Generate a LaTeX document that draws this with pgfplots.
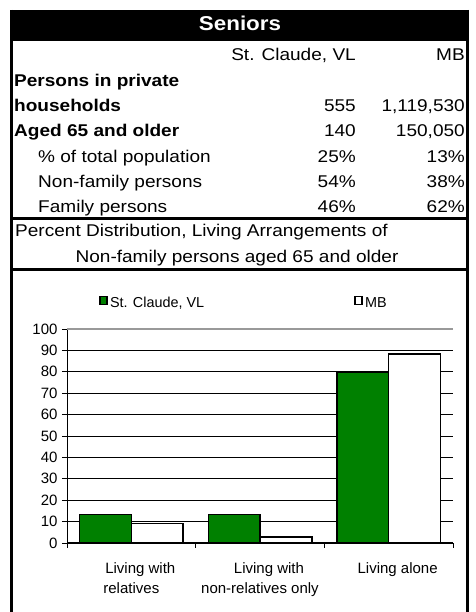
\documentclass[border=0pt]{standalone}
\usepackage{pgfplots}
\pgfplotsset{compat=1.18}
\usepackage{fontspec}
\setmainfont{Liberation Sans}
\newfontfamily\tabfont[FakeStretch=1.12]{Liberation Sans}
\definecolor{xlgreen}{RGB}{0,128,0}

\begin{document}
\begin{tikzpicture}[x=1pt,y=1pt]
\useasboundingbox (0,0) rectangle (475,612);
% frame
\fill[black] (10,602) rectangle (469,571.3);
\draw[line width=3pt] (11.5,602) -- (11.5,0);
\draw[line width=3pt] (467.5,602) -- (467.5,0);
\draw[line width=3pt] (10,393.3) -- (469,393.3);
\draw[line width=3pt] (10,342) -- (469,342);
% table text
\node[anchor=base, text=white, inner sep=0pt, font=\tabfont\bfseries\fontsize{20}{24}\selectfont] at (240,581) {Seniors};
\begin{scope}[every node/.style={inner sep=0pt, font=\tabfont\fontsize{17}{20}\selectfont}]
\node[anchor=base east] at (356,551) {St. Claude, VL};
\node[anchor=base east] at (465,551) {MB};
\node[anchor=base west, font=\tabfont\bfseries\fontsize{17}{20}\selectfont] at (14,525.7) {Persons in private};
\node[anchor=base west, font=\tabfont\bfseries\fontsize{17}{20}\selectfont] at (14,500.4) {households};
\node[anchor=base east] at (356,500.4) {555};
\node[anchor=base east] at (465,500.4) {1,119,530};
\node[anchor=base west, font=\tabfont\bfseries\fontsize{17}{20}\selectfont] at (14,475) {Aged 65 and older};
\node[anchor=base east] at (356,475) {140};
\node[anchor=base east] at (465,475) {150,050};
\node[anchor=base west] at (38,449.7) {\% of total population};
\node[anchor=base east] at (356,449.7) {25\%};
\node[anchor=base east] at (465,449.7) {13\%};
\node[anchor=base west] at (38,424.4) {Non-family persons};
\node[anchor=base east] at (356,424.4) {54\%};
\node[anchor=base east] at (465,424.4) {38\%};
\node[anchor=base west] at (38,399) {Family persons};
\node[anchor=base east] at (356,399) {46\%};
\node[anchor=base east] at (465,399) {62\%};
\node[anchor=base west] at (15,375) {Percent Distribution, Living Arrangements of};
\node[anchor=base] at (237,349) {Non-family persons aged 65 and older};
\end{scope}
\begin{axis}[
  at={(67pt,69pt)}, anchor=south west,
  scale only axis, width=386pt, height=214pt,
  xmin=-0.5, xmax=2.5, ymin=0, ymax=100,
  ybar=0pt, bar width=51.7pt,
  axis lines=left, axis line style={-, black, line width=1pt},
  tick align=outside, major tick length=5pt,
  tick style={black, line width=0.8pt},
  ytick={0,10,...,90}, extra y ticks={100},
  ymajorgrids, grid style={black, line width=0.8pt},
  extra y tick style={grid style={gray!80, line width=1.2pt}},
  xtick={-0.5,0.5,1.5,2.5}, xticklabels={},
  extra x ticks={0,1,2},
  extra x tick labels={\hspace*{18pt}Living with\\relatives, \hspace*{18pt}Living with\\non-relatives only, \hspace*{18pt}Living alone},
  extra x tick style={major tick length=0pt, tick style={draw=none}, grid=none},
  xticklabel style={font=\fontsize{15}{20}\selectfont, align=center, yshift=-16pt},
  yticklabel style={font=\fontsize{15}{18}\selectfont, xshift=-1pt},
  /pgf/number format/assume math mode=true,
  legend style={at={(0.083,1.122)}, anchor=west, draw=none, fill=none,
    legend columns=2, inner sep=0pt, font=\fontsize{14.4}{17}\selectfont,
    /tikz/every even column/.append style={column sep=148pt}},
  legend image code/.code={\draw[#1, line width=1.8pt] (0.5pt,-1.6pt) rectangle (7.5pt,6.4pt);},
]
\addplot[fill=xlgreen, draw=black, line width=1.6pt] coordinates {(0,13.3) (1,13.3) (2,80)};
\addplot[fill=white, draw=black, line width=1.6pt] coordinates {(0,9.2) (1,2.7) (2,88.3)};
\legend{{St. Claude, VL}, MB}
\end{axis}
\end{tikzpicture}
\end{document}
